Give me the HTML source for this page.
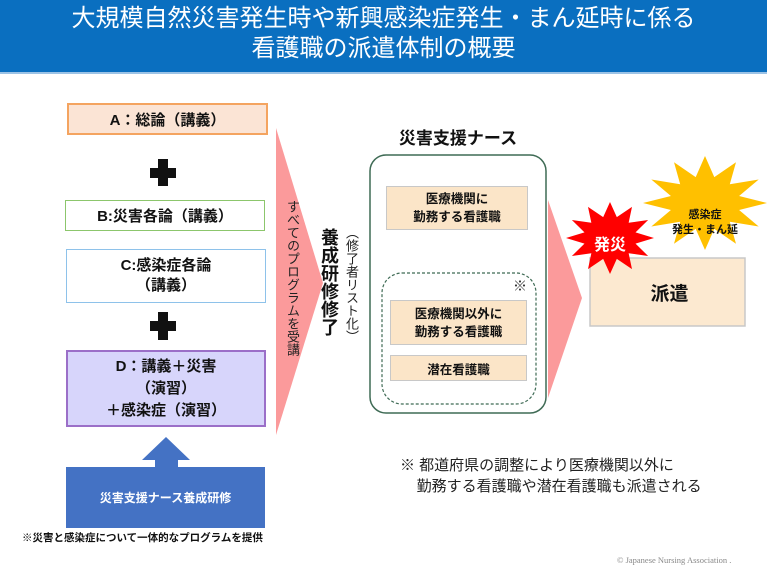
<!DOCTYPE html>
<html><head><meta charset="utf-8"><style>
body{margin:0;width:767px;height:575px;background:#fff;position:relative;overflow:hidden;font-family:"Liberation Sans","Noto Sans CJK JP",sans-serif;}
.a{position:absolute;}
.box{position:absolute;box-sizing:border-box;display:flex;align-items:center;justify-content:center;text-align:center;font-weight:bold;color:#111;}
.v{writing-mode:vertical-rl;position:absolute;}
</style></head><body>
<div class="a" style="left:0;top:0;width:767px;height:72px;background:#0a6fc0;border-bottom:2px solid #9cc3e6;"></div>
<div class="a" style="left:0;top:4px;width:767px;text-align:center;color:#fff;font-size:24px;line-height:30px;">大規模自然災害発生時や新興感染症発生・まん延時に係る<br>看護職の派遣体制の概要</div>

<svg class="a" style="left:0;top:0" width="767" height="575">
<polygon points="276,128 323,283 276,435" fill="#fb9a9b"/>
<polygon points="548,200 582,298 548,398" fill="#fb9a9b"/>
<rect x="370" y="155" width="176" height="258" rx="16" fill="#fff" stroke="#3f6b55" stroke-width="1.5"/>
<rect x="382" y="273" width="154" height="131" rx="20" fill="none" stroke="#3f6b55" stroke-width="1.2" stroke-dasharray="3,2"/>
<rect x="158" y="159" width="10" height="27" fill="#111"/><rect x="150" y="168" width="26" height="10" fill="#111"/>
<rect x="158" y="312" width="10" height="28" fill="#111"/><rect x="150" y="321" width="26" height="10" fill="#111"/>
<polygon points="166,437 190,460 142,460" fill="#4472c4"/>
<rect x="155" y="459" width="23" height="9" fill="#4472c4"/>
<rect x="66" y="467" width="199" height="61" fill="#4472c4"/>
<rect x="590" y="258" width="155" height="68" fill="#fce9d0" stroke="#c8c8c8" stroke-width="1.5"/>
<polygon transform="translate(705,203) scale(62,47)" fill="#ffc000" points="1,0 .55,.15 .866,.5 .4,.4 .5,.866 .15,.55 0,1 -.15,.55 -.5,.866 -.4,.4 -.866,.5 -.55,.15 -1,0 -.55,-.15 -.866,-.5 -.4,-.4 -.5,-.866 -.15,-.55 0,-1 .15,-.55 .5,-.866 .4,-.4 .866,-.5 .55,-.15"/>
<polygon transform="translate(610,238) scale(44,36)" fill="#ff0000" points="1,0 .58,.155 .866,.5 .424,.424 .5,.866 .155,.58 0,1 -.155,.58 -.5,.866 -.424,.424 -.866,.5 -.58,.155 -1,0 -.58,-.155 -.866,-.5 -.424,-.424 -.5,-.866 -.155,-.58 0,-1 .155,-.58 .5,-.866 .424,-.424 .866,-.5 .58,-.155"/>
</svg>

<div class="box" style="left:67px;top:103px;width:201px;height:32px;background:#fbe4d5;border:2px solid #f4a460;font-size:15px;">A：総論（講義）</div>
<div class="box" style="left:65px;top:200px;width:200px;height:31px;background:#fff;border:1.5px solid #8cc66c;font-size:15px;">B:災害各論（講義）</div>
<div class="box" style="left:66px;top:249px;width:200px;height:54px;background:#fff;border:1.5px solid #8ec2ea;font-size:15px;line-height:20px;">C:感染症各論<br>（講義）</div>
<div class="box" style="left:66px;top:350px;width:200px;height:77px;background:#d7d5fb;border:2px solid #9b6fc8;font-size:15px;line-height:22px;">D：講義＋災害<br>（演習）<br>＋感染症（演習）</div>
<div class="box" style="left:66px;top:467px;width:199px;height:61px;color:#fff;font-size:12px;">災害支援ナース養成研修</div>
<div class="a" style="left:22px;top:530px;font-size:10.5px;font-weight:bold;color:#111;">※災害と感染症について一体的なプログラムを提供</div>

<div class="v" style="left:284px;top:200px;font-size:13px;color:#222;line-height:16px;">すべてのプログラムを受講</div>
<div class="v" style="left:318px;top:228px;font-size:18px;font-weight:bold;color:#111;line-height:22px;">養成研修修了</div>
<div class="v" style="left:343px;top:226px;font-size:13px;color:#222;line-height:16px;">（修了者リスト化）</div>

<div class="a" style="left:370px;top:124px;width:176px;text-align:center;font-size:17px;font-weight:bold;color:#111;">災害支援ナース</div>
<div class="box" style="left:386px;top:186px;width:142px;height:44px;background:#fbe5c8;border:1.5px solid #c8c8c8;font-size:12.5px;line-height:18px;">医療機関に<br>勤務する看護職</div>
<div class="a" style="left:513px;top:276px;font-size:14px;color:#333;">※</div>
<div class="box" style="left:390px;top:300px;width:137px;height:45px;background:#fbe5c8;border:1.5px solid #c8c8c8;font-size:12.5px;line-height:18px;">医療機関以外に<br>勤務する看護職</div>
<div class="box" style="left:390px;top:355px;width:137px;height:26px;background:#fbe5c8;border:1.5px solid #c8c8c8;font-size:12.5px;">潜在看護職</div>

<div class="a" style="left:588px;top:231px;width:44px;text-align:center;font-size:16px;font-weight:bold;color:#fff;">発災</div>
<div class="a" style="left:665px;top:208px;width:80px;text-align:center;font-size:11px;font-weight:bold;color:#111;line-height:15px;">感染症<br>発生・まん延</div>
<div class="a" style="left:590px;top:279px;width:155px;text-align:center;font-size:19px;font-weight:bold;color:#111;padding-left:2px;">派遣</div>

<div class="a" style="left:400px;top:455px;font-size:15px;color:#222;line-height:21px;">※ 都道府県の調整により医療機関以外に<br>&nbsp;&nbsp;&nbsp;&nbsp;勤務する看護職や潜在看護職も派遣される</div>
<div class="a" style="left:617px;top:555px;font-size:8.5px;color:#888;font-family:'Liberation Serif',serif;">© Japanese Nursing Association .</div>
</body></html>
